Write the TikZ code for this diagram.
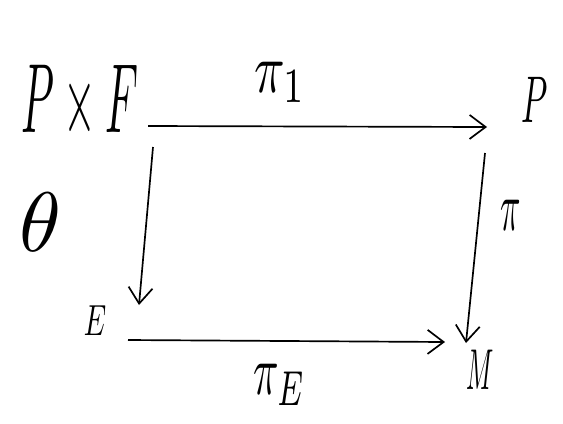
\documentclass[tikz,border=0pt]{standalone}
\usepackage{amsmath}
\usepackage{amssymb}
\usepackage{tikz}
\usetikzlibrary{arrows.meta}

\begin{document}
\begin{tikzpicture}[x=0.025cm, y=-0.025cm,
  obj/.style={inner sep=0pt},
  lbl/.style={inner sep=0pt, xscale=3, yscale=5},
  arr/.style={line width=1.2pt, -{Straight Barb[length=0.4cm, width=0.6cm, line width=1.2pt]}}]
\useasboundingbox (0,0) rectangle (563,423);
% objects
\node (PF) [obj, xscale=3, yscale=7] at (80,103) {$P\times F$};
\node (fib) [obj, scale=6] at (40,222) {$\theta$};
\node (P) [obj, xscale=2.4, yscale=4.7] at (535,100) {$P$};
\node (E) [obj, xscale=2, yscale=3.1] at (95,321) {$E$};
\node (M) [obj, xscale=1.8, yscale=4.1] at (480,370) {$M$};
% arrows
\draw[arr] ([shift={(68,23)}]PF.center) -- node[pos=0.39, yshift=1.1cm, lbl, xscale=1.2] {$\pi_1$} ([shift={(-48,27)}]P.center);
\draw[arr] ([shift={(73,44)}]PF.center) -- ([shift={(44,-16)}]E.center);
\draw[arr] ([shift={(-50,53)}]P.center) -- node[pos=0.33, xshift=0.8cm, lbl, xscale=0.8] {$\pi$} ([shift={(-14,-27)}]M.center);
\draw[arr] ([shift={(33,19)}]E.center) -- node[pos=0.48, yshift=-1.1cm, lbl] {$\pi_E$} ([shift={(-35,-28)}]M.center);
\end{tikzpicture}
\end{document}
